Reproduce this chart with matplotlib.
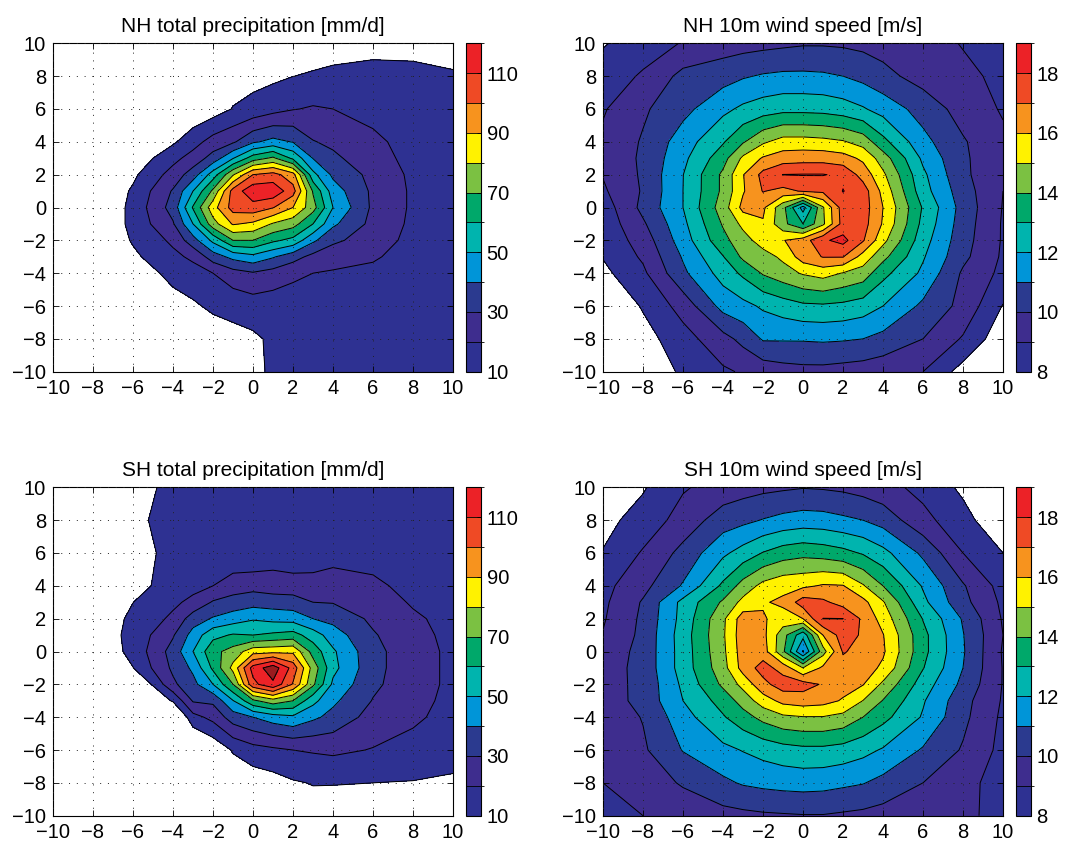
import numpy as np
import matplotlib
matplotlib.use("Agg")
import matplotlib.pyplot as plt
from matplotlib.colors import ListedColormap, BoundaryNorm
from matplotlib.cm import ScalarMappable

plt.rcParams['font.family'] = ['Liberation Sans', 'DejaVu Sans']

# grid of the composites (degrees from storm centre)
xs = [-10, -8, -6, -4, -3, -2, -1, 0, 1, 2, 3, 4, 6, 8, 10]
ys = [10, 8, 6, 4, 3, 2, 1, 0, -1, -2, -3, -4, -6, -8, -10]

# rows go from y=10 (top) to y=-10 (bottom)
nh_precip = [
    [0, 0, 0, 0, 0, 0, 1, 2, 3, 4, 5, 6, 7, 7, 6],
    [0, 0, 0, 0, 1, 3, 5, 7, 8, 9.9, 11, 12, 13, 12.5, 11],
    [0, 0, 0, 1, 2, 5, 10.5, 13, 16.5, 19.5, 21, 20, 17, 15, 13],
    [0, 0, 0, 8.5, 16, 24, 28.5, 38.5, 43, 39.5, 30.5, 28, 22, 16.5, 14],
    [0, 0, 3, 17, 24, 34, 49.5, 65, 72, 58, 39.7, 32, 24, 17, 14.5],
    [0, -1, 8, 24, 35, 55, 79, 100, 103.7, 94, 53, 38, 27, 18, 15],
    [0, -2, 11.5, 31, 50, 72, 104, 117, 117, 104, 69, 45, 28, 18.5, 15],
    [0, -2, 13, 34, 61, 86, 104, 106, 100.5, 90, 74, 50, 28, 18.5, 15],
    [0, -2, 13, 29, 50, 76, 91, 88, 79, 74, 60, 42, 27, 18, 15],
    [0, -1, 11, 22, 36, 52.5, 70, 70, 62, 57, 42, 32, 25, 17, 15],
    [0, 0, 8, 17.5, 22, 35, 43, 47, 41, 34, 27, 24, 21, 16.5, 14.5],
    [0, 0, 4, 13, 16, 20, 26, 29, 26, 22, 20, 19, 18, 16, 14],
    [0, 0, 0, 6, 8.5, 12, 13, 15, 14.5, 15, 15, 15, 16, 15, 13.5],
    [0, 0, 0, 1, 3, 4, 7, 8.3, 11.7, 13, 13, 14, 15, 14, 13],
    [0, 0, 0, 0, 1, 1, 4, 7, 12, 12, 12, 13, 14, 13, 12.5],
]

sh_precip = [
    [-5, -5, 7, 12, 13, 12, 12, 13, 13, 13, 13, 13, 13, 13, 13],
    [-5, -5, 7.5, 14, 14, 13, 12, 12, 14, 14, 14, 14, 14, 14, 13.5],
    [-5, -5, 3, 15, 15, 14, 12, 11, 14.5, 12, 14, 16, 16, 15, 14],
    [-5, -5, 5, 16, 17, 20, 25, 26.6, 25, 25, 24, 25, 22, 17, 15],
    [-5, -5, 9.9, 18, 22.5, 31, 34, 36, 35, 34, 30, 29.5, 25, 19, 16],
    [-5, 2.7, 12, 22, 35, 41, 45, 49, 47, 46, 40, 37, 28, 21.5, 17],
    [-5, 3, 13, 29, 44, 57, 61, 60, 62, 64, 55, 45, 31, 23, 17.5],
    [-5, 1, 13, 34, 50, 67, 74, 86, 87, 88, 66, 51.5, 33, 24, 18],
    [-5, -5, 9.8, 32, 42, 62, 83, 114, 126, 106, 76, 53, 33, 24, 18],
    [-5, -5, -5, 28, 37, 50, 70, 107, 118, 99, 72, 48, 32, 24, 18],
    [-5, -5, -5, 11, 31, 32, 49.5, 68, 76, 70, 53, 42, 29.5, 23, 17.5],
    [-5, -5, -5, -5, 16.5, 23, 35, 40, 45, 48, 42, 37, 26, 21.5, 17],
    [-5, -5, -5, -5, -5, 2, 11, 16, 18, 20, 21, 22, 19.5, 17, 15],
    [-5, -5, -5, -5, -5, 0, 2, 4, 6, 9, 10.5, 10.4, 10, 9.5, 8],
    [-5, -5, -5, -5, -5, 0, 0, 1, 2, 4, 5, 5, 5, 5, 4],
]

nh_wind = [
    [7.9, 8.6, 9.05, 9.5, 9.6, 9.7, 9.8, 9.9, 9.9, 9.85, 9.75, 9.6, 9.35, 8.95, 8.4],
    [8.55, 9.1, 10.3, 10.6, 10.9, 11.1, 11.2, 11.2, 11.15, 11.0, 10.7, 10.3, 9.6, 9.2, 8.8],
    [8.9, 9.85, 10.7, 11.75, 12.2, 12.5, 12.7, 12.7, 12.65, 12.45, 12.1, 11.6, 10.6, 9.6, 8.9],
    [9.2, 10.1, 11.5, 12.9, 13.9, 14.85, 15.4, 15.4, 15.3, 15.1, 14.6, 13.3, 11.3, 10.1, 9.2],
    [9.3, 10.15, 11.75, 13.6, 15.2, 16.1, 16.5, 16.6, 16.6, 16.4, 15.8, 14.5, 11.8, 10.15, 9.3],
    [9.05, 10.15, 11.98, 14.2, 15.95, 17.3, 18.02, 18.05, 18.05, 17.8, 16.6, 15.2, 12.2, 10.2, 9.2],
    [8.85, 10.1, 12.0, 14.2, 15.9, 17.05, 16.7, 17.1, 17.2, 18.03, 17.5, 15.7, 12.4, 10.45, 9.0],
    [8.46, 10.27, 12.0, 14.5, 16.3, 16.2, 14.3, 11.6, 14.9, 17.5, 17.5, 16.0, 12.9, 10.6, 8.95],
    [8.35, 9.85, 11.75, 14.1, 15.25, 15.9, 14.3, 13.0, 14.8, 17.4, 17.4, 15.9, 12.7, 10.5, 8.9],
    [8.25, 9.45, 11.5, 13.7, 14.6, 15.45, 15.95, 16.5, 17.85, 18.3, 17.1, 15.3, 12.4, 10.4, 8.9],
    [8.05, 9.15, 11.1, 12.95, 14.2, 14.6, 15.2, 16.5, 17.05, 17.05, 15.6, 14.3, 12.1, 10.25, 8.85],
    [7.75, 8.8, 10.8, 12.4, 13.2, 14.1, 14.6, 15.1, 15.4, 14.95, 14.55, 13.3, 11.8, 9.85, 8.75],
    [7.0, 8.1, 9.4, 11.35, 11.7, 12.15, 12.5, 12.8, 12.85, 12.75, 12.5, 12.0, 10.8, 9.7, 7.95],
    [6.0, 7.6, 8.6, 9.65, 10.3, 11.1, 11.1, 11.1, 11.15, 11.1, 11.0, 10.7, 10.0, 8.9, 7.3],
    [5.0, 6.7, 8.3, 8.85, 9.1, 9.4, 9.6, 9.7, 9.7, 9.6, 9.5, 9.35, 9.0, 7.6, 6.5],
]

sh_wind = [
    [7.3, 7.9, 8.9, 9.4, 9.6, 9.75, 9.85, 9.95, 9.9, 9.8, 9.6, 9.35, 8.7, 7.8, 7.0],
    [7.7, 8.4, 9.4, 10.5, 10.75, 11.05, 11.3, 11.45, 11.4, 11.2, 11.0, 10.6, 9.3, 8.35, 7.2],
    [8.05, 9.1, 10.3, 11.8, 12.4, 13.05, 13.5, 13.7, 13.55, 13.3, 12.9, 12.3, 10.8, 9.0, 8.0],
    [8.7, 9.7, 11.1, 13.2, 14.4, 15.3, 15.7, 15.8, 16.1, 16.05, 15.1, 14.0, 11.9, 10.1, 8.6],
    [8.8, 10.1, 12.3, 14.15, 15.3, 15.9, 16.2, 17.5, 17.2, 16.6, 16.3, 15.1, 12.25, 10.3, 8.8],
    [8.9, 10.2, 12.35, 14.8, 16.5, 16.1, 15.6, 16.0, 18.02, 18.01, 16.8, 15.6, 12.95, 10.9, 8.9],
    [9.05, 10.25, 12.5, 14.85, 16.6, 16.3, 14.4, 12.3, 16.0, 17.5, 16.85, 16.05, 13.3, 11.05, 9.0],
    [9.4, 10.3, 12.45, 14.77, 16.5, 16.5, 14.2, 10.9, 14.6, 17.1, 16.6, 16.15, 13.3, 11.1, 8.9],
    [9.55, 10.3, 12.45, 14.6, 16.4, 17.4, 16.6, 15.0, 16.2, 16.6, 16.5, 15.8, 13.05, 11.0, 8.95],
    [9.6, 10.25, 12.2, 14.2, 15.3, 16.7, 17.5, 17.4, 16.9, 16.4, 16.05, 14.8, 12.5, 10.75, 8.95],
    [9.5, 10.3, 12.0, 13.4, 14.4, 15.5, 16.3, 16.5, 16.35, 15.9, 14.98, 13.95, 12.1, 10.35, 8.9],
    [9.4, 10.05, 11.6, 12.9, 13.6, 14.3, 14.8, 14.95, 14.95, 14.7, 14.0, 13.3, 11.9, 10.25, 8.8],
    [9.25, 9.85, 11.05, 11.75, 12.05, 12.35, 12.6, 12.75, 12.75, 12.6, 12.3, 11.9, 10.9, 9.9, 8.7],
    [9.0, 9.5, 10.1, 10.8, 11.1, 11.25, 11.35, 11.4, 11.35, 11.2, 11.05, 10.7, 10.0, 9.3, 8.6],
    [8.6, 9.0, 9.4, 9.65, 9.75, 9.85, 9.9, 9.95, 9.95, 9.85, 9.75, 9.6, 9.35, 9.1, 8.85],
]

band_colors = ['#2E3192', '#3E2D8E', '#2B3A8F', '#0095D8', '#00B4AE', '#00A86A',
               '#7BC142', '#FFF200', '#F7931E', '#EF4A25', '#EC2227']
above_color = '#9B1B1F'

precip_levels = list(range(10, 130, 10))   # 10 ... 120
wind_levels = list(range(8, 20))           # 8 ... 19
precip_ticks = [10, 30, 50, 70, 90, 110]
wind_ticks = [8, 10, 12, 14, 16, 18]

# axes boxes in figure pixels: left, top
W, H = 1067, 844
panels = [
    (nh_precip, 'NH total precipitation [mm/d]', precip_levels, precip_ticks, 53, 43.3),
    (nh_wind, 'NH 10m wind speed [m/s]', wind_levels, wind_ticks, 603, 43.3),
    (sh_precip, 'SH total precipitation [mm/d]', precip_levels, precip_ticks, 53, 487.3),
    (sh_wind, 'SH 10m wind speed [m/s]', wind_levels, wind_ticks, 603, 487.3),
]
ax_w, ax_h = 400, 328.4
cb_gap, cb_w = 13, 15

fig = plt.figure(figsize=(W / 100, H / 100), dpi=100)
X, Y = np.meshgrid(xs, ys)

for data, title, levels, ticks, left, top in panels:
    Z = np.array(data, dtype=float)
    ax = fig.add_axes([left / W, 1 - (top + ax_h) / H, ax_w / W, ax_h / H])

    # one extra band above the colorbar range (dark red core in SH precip)
    fill_levels = levels + [levels[-1] + (levels[1] - levels[0])]
    fill_colors = band_colors + [above_color]
    ax.contourf(X, Y, Z, levels=fill_levels, colors=fill_colors)
    ax.contour(X, Y, Z, levels=levels, colors='k', linewidths=0.7)

    ax.set_xlim(-10, 10)
    ax.set_ylim(-10, 10)
    ax.set_xticks(range(-10, 11, 2))
    ax.set_yticks(range(-10, 11, 2))
    ax.set_axisbelow(False)
    ax.grid(True, color='#222222', linestyle=(0, (1, 7)), linewidth=0.7)
    ax.tick_params(direction='in', top=True, right=True, length=4, width=0.6,
                   labelsize=14.5, pad=5)
    for sp in ax.spines.values():
        sp.set_linewidth(0.8)
    ax.set_title(title, fontsize=15, pad=8)

    cax = fig.add_axes([(left + ax_w + cb_gap) / W, 1 - (top + ax_h) / H,
                        cb_w / W, ax_h / H])
    sm = ScalarMappable(norm=BoundaryNorm(levels, len(band_colors)),
                        cmap=ListedColormap(band_colors))
    cb = fig.colorbar(sm, cax=cax, drawedges=True)
    cb.dividers.set_linewidth(0.6)
    cb.outline.set_linewidth(0.8)
    cb.set_ticks(ticks)
    cb.ax.tick_params(direction='in', length=3, width=0.6, labelsize=14.5, pad=4)

fig.savefig('out.png', dpi=100)
